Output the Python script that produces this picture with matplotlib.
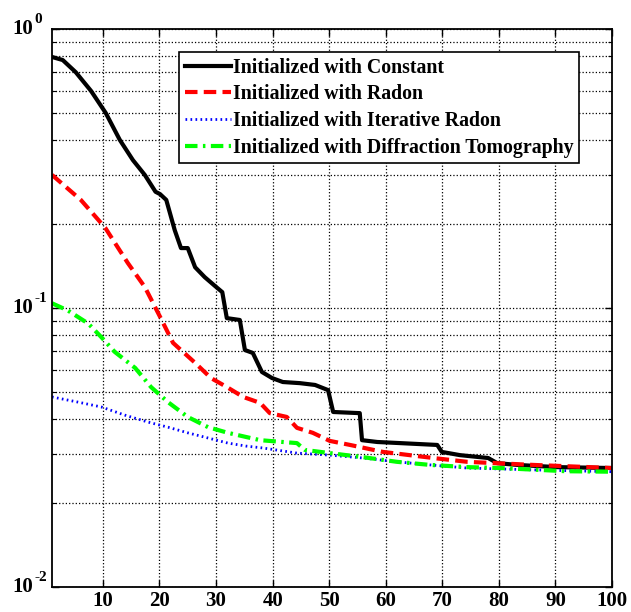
import matplotlib
matplotlib.use("Agg")
import matplotlib.pyplot as plt
import matplotlib.transforms as mtransforms

# values (x = iteration, y = error)
const_x = [1, 2.9, 5.2, 7.9, 10.5, 13.0, 15.3, 17.4, 19.3, 20.1, 21.2, 22.7, 23.8, 25.0,
           26.3, 28.0, 29.8, 31.1, 31.9, 34.2, 35.1, 36.5, 38.1, 39.9, 41.8, 44.8, 47.5,
           49.8, 50.7, 55.4, 55.8, 58.5, 62.5, 69.1, 69.9, 73.1, 78.1, 79.7, 83.2, 90.3, 100]
const_y = [0.794, 0.774, 0.70, 0.60, 0.50, 0.40, 0.339, 0.30, 0.261, 0.256, 0.244, 0.190,
           0.164, 0.164, 0.140, 0.129, 0.120, 0.114, 0.092, 0.0906, 0.0707, 0.069, 0.059,
           0.0561, 0.0543, 0.0538, 0.053, 0.0508, 0.0424, 0.042, 0.0336, 0.0331, 0.0328,
           0.0323, 0.0305, 0.0297, 0.029, 0.0278, 0.0274, 0.0269, 0.0267]

radon_x = [1, 6.1, 10.4, 14.4, 17.4, 20.1, 22.4, 26.3, 29.1, 31.9, 34.8, 37.8, 39.5,
           42.5, 44.3, 47.1, 50.1, 53.7, 59.5, 68.4, 74.4, 86.0, 100]
radon_y = [0.30, 0.244, 0.194, 0.145, 0.119, 0.093, 0.075, 0.0636, 0.0561, 0.0521, 0.048,
           0.0457, 0.042, 0.0407, 0.0372, 0.0357, 0.0334, 0.0323, 0.0305, 0.029, 0.0281,
           0.0274, 0.0267]

iter_x = [1, 5.6, 9.7, 13.9, 18, 21.5, 25, 28.6, 32.1, 35.3, 38.3, 44.3, 50.1, 56, 62,
          67.8, 74.4, 86, 100]
iter_y = [0.048, 0.046, 0.0442, 0.0413, 0.039, 0.0374, 0.0357, 0.0342, 0.0328, 0.032,
          0.0315, 0.0302, 0.0297, 0.029, 0.0281, 0.0274, 0.0267, 0.0263, 0.0259]

diff_x = [1, 3.8, 7.4, 9.7, 12.1, 15.7, 18.5, 21.5, 25.0, 28.6, 32.1, 35.3, 37.8, 41.8,
          44.3, 45.7, 50.1, 56.0, 62.0, 67.8, 74.4, 80.2, 92.0, 100]
diff_y = [0.104, 0.098, 0.088, 0.0787, 0.0696, 0.061, 0.0521, 0.046, 0.0407, 0.0374,
          0.0357, 0.0345, 0.0336, 0.0331, 0.0328, 0.031, 0.0302, 0.0292, 0.0281, 0.0274,
          0.0269, 0.0267, 0.026, 0.0259]

labels = ["Initialized with Constant", "Initialized with Radon",
          "Initialized with Iterative Radon", "Initialized with Diffraction Tomography"]
x_ticks = [10, 20, 30, 40, 50, 60, 70, 80, 90, 100]
y_ticks = [1e-2, 1e-1, 1e0]
y_exps = ["-2", "-1", "0"]

plt.rcParams['font.family'] = ['Liberation Serif', 'DejaVu Serif']
plt.rcParams['font.weight'] = 'bold'

fig = plt.figure(figsize=(6.31, 6.12), dpi=100)
ax = fig.add_axes([0.0824, 0.0408, 0.8876, 0.9118])

ax.plot(const_x, const_y, '-', color='black', lw=3, label=labels[0])
ax.plot(radon_x, radon_y, '--', color='red', lw=3, dashes=(3, 1.5), label=labels[1])
ax.plot(iter_x, iter_y, ':', color='blue', lw=2, dashes=(0.6, 1.2), label=labels[2])
ax.plot(diff_x, diff_y, '-.', color='#00ff00', lw=3, dashes=(3, 1.3, 0.6, 1.3), label=labels[3])

ax.set_yscale('log')
ax.set_xlim(1, 100)
ax.set_ylim(1e-2, 1e0)
ax.set_xticks(x_ticks)
ax.set_xticklabels([str(t) for t in x_ticks])
ax.set_yticks(y_ticks)
ax.set_yticklabels([])

# MATLAB style "10^n" labels: base and exponent as separate texts
trans = mtransforms.blended_transform_factory(ax.transAxes, ax.transData)
for t, e in zip(y_ticks, y_exps):
    ax.annotate("10", xy=(0, t), xycoords=trans, xytext=(-13.5, 0),
                textcoords='offset points', ha='right', va='center',
                fontsize=15, fontweight='bold')
    ax.annotate(e, xy=(0, t), xycoords=trans, xytext=(-12.5, 2),
                textcoords='offset points', ha='left', va='bottom',
                fontsize=11, fontweight='bold')

ax.grid(True, which='major', ls=':', color='black', lw=0.9)
ax.grid(True, which='minor', axis='y', ls=':', color='black', lw=0.9)
ax.tick_params(which='both', direction='in', top=True, right=True, labelsize=15)
ax.tick_params(axis='x', pad=3)
ax.tick_params(which='major', length=5, width=1)
ax.tick_params(which='minor', length=3, width=0.8)
ax.tick_params(axis='y', which='minor', labelleft=False)
for s in ax.spines.values():
    s.set_linewidth(1.3)

leg = ax.legend(loc='upper left', bbox_to_anchor=(0.227, 0.959),
                handlelength=2.3, handletextpad=0.1, labelspacing=0.33,
                borderpad=0.3, borderaxespad=0, fancybox=False, framealpha=1,
                edgecolor='black', prop={'weight': 'bold', 'size': 14.3})
leg.get_frame().set_linewidth(1.2)

fig.savefig("out.png", dpi=100)
